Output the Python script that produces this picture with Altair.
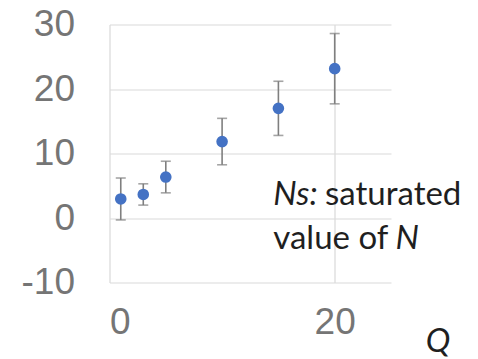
import altair as alt
import pandas as pd

Q = [1, 3, 5, 10, 15, 20]
Ns = [2.95, 3.65, 6.35, 11.85, 17.0, 23.15]
err = [3.25, 1.65, 2.45, 3.6, 4.2, 5.45]

y_ticks = [-10, 0, 10, 20, 30]
x_ticks = [0, 20]

df = pd.DataFrame({
    "Q": Q,
    "Ns": Ns,
    "lo": [n - e for n, e in zip(Ns, err)],
    "hi": [n + e for n, e in zip(Ns, err)],
})

GRID = "#d9d9d9"
LABEL = "#757575"
TEXTFONT = "Lato"

xs = alt.Scale(domain=[0, 25], nice=False, zero=False)
ys = alt.Scale(domain=[-10, 30], nice=False, zero=False)

x_axis = alt.Axis(values=x_ticks, grid=True, gridColor=GRID, gridWidth=1.2,
                  domain=False, ticks=False, title=None,
                  labelFont="Liberation Sans", labelFontSize=37, labelColor=LABEL,
                  labelPadding=22, labelExpr="datum.value + ''")
y_axis = alt.Axis(values=y_ticks, grid=True, gridColor=GRID, gridWidth=1.2,
                  domain=False, ticks=False, title=None,
                  labelFont="Liberation Sans", labelFontSize=37, labelColor=LABEL,
                  labelPadding=35, labelExpr="datum.value + ''")

base = alt.Chart(df)

bars = base.mark_rule(color="#7f7f7f", strokeWidth=1.6).encode(
    x=alt.X("Q:Q", scale=xs, axis=x_axis),
    y=alt.Y("lo:Q", scale=ys, axis=y_axis),
    y2="hi:Q",
)
cap_lo = base.mark_tick(orient="horizontal", size=10, thickness=1.6, color="#7f7f7f").encode(
    x=alt.X("Q:Q", scale=xs), y=alt.Y("lo:Q", scale=ys))
cap_hi = base.mark_tick(orient="horizontal", size=10, thickness=1.6, color="#7f7f7f").encode(
    x=alt.X("Q:Q", scale=xs), y=alt.Y("hi:Q", scale=ys))
pts = base.mark_circle(size=135, color="#4472C4", opacity=1).encode(
    x=alt.X("Q:Q", scale=xs), y=alt.Y("Ns:Q", scale=ys))

one = alt.Data(values=[{"a": 1}])

def txt(s, x, y, italic=False, align="left"):
    return alt.Chart(one).mark_text(
        text=s, font=TEXTFONT, fontSize=33, color="#1f1f1f",
        fontStyle="italic" if italic else "normal",
        align=align, baseline="alphabetic",
    ).encode(x=alt.value(x), y=alt.value(y))

ann = [
    txt("Ns:", 163.8, 180.5, italic=True),
    txt("saturated", 215.5, 180.5),
    txt("value of", 163.8, 224),
    txt("N", 286, 224, italic=True),
    txt("Q", 328.5, 327, italic=True, align="center"),
]

chart = alt.layer(bars, cap_lo, cap_hi, pts, *ann).properties(
    width=281.5, height=258,
    autosize=alt.AutoSizeParams(type="none"),
    padding={"left": 101.5, "top": 16.5, "right": 70, "bottom": 76},
).configure_view(stroke=None)

chart.save("out.html", embed_options={"renderer": "svg", "actions": False})
